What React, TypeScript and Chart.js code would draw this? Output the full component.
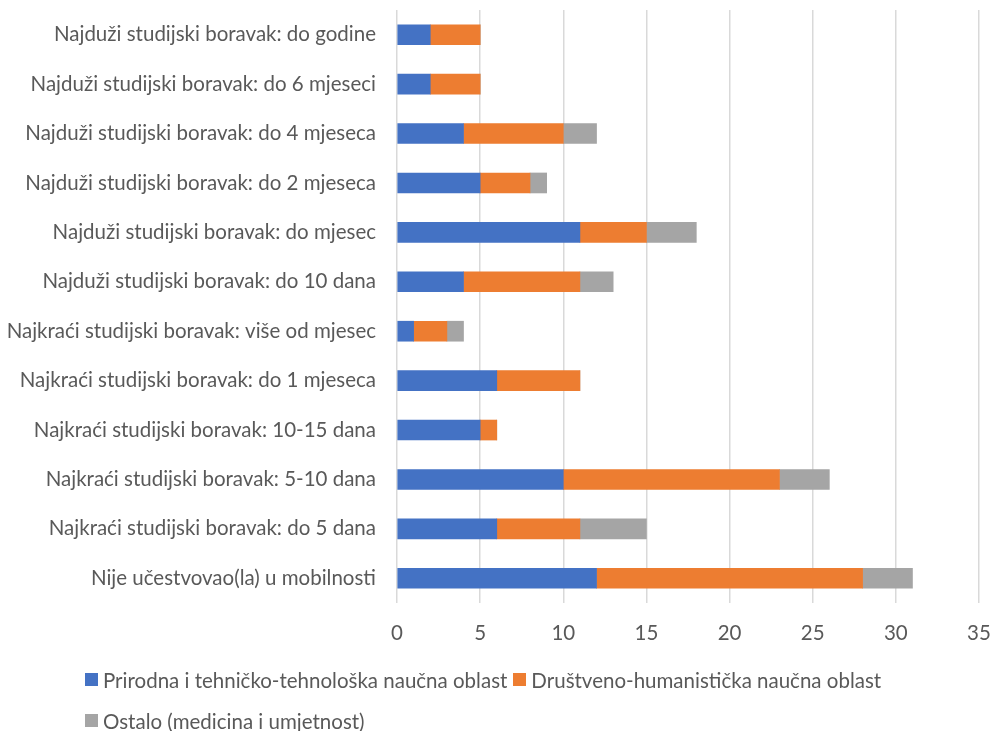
import React, { useEffect, useRef } from "react";
import { Chart, registerables } from "chart.js";

Chart.register(...registerables);

const categories = [
  "Najduži studijski boravak: do godine",
  "Najduži studijski boravak: do 6 mjeseci",
  "Najduži studijski boravak: do 4 mjeseca",
  "Najduži studijski boravak: do 2 mjeseca",
  "Najduži studijski boravak: do mjesec",
  "Najduži studijski boravak: do 10 dana",
  "Najkraći studijski boravak: više od mjesec",
  "Najkraći studijski boravak: do 1 mjeseca",
  "Najkraći studijski boravak: 10-15 dana",
  "Najkraći studijski boravak: 5-10 dana",
  "Najkraći studijski boravak: do 5 dana",
  "Nije učestvovao(la) u mobilnosti",
];

const prirodna = [2, 2, 4, 5, 11, 4, 1, 6, 5, 10, 6, 12];
const drustveno = [3, 3, 6, 3, 4, 7, 2, 5, 1, 13, 5, 16];
const ostalo = [0, 0, 2, 1, 3, 2, 1, 0, 0, 3, 4, 3];

const seriesNames = [
  "Prirodna i tehničko-tehnološka naučna oblast",
  "Društveno-humanistička naučna oblast",
  "Ostalo (medicina i umjetnost)",
];
const colors = ["#4472C4", "#ED7D31", "#A5A5A5"];

const FONT = "Lato, 'Liberation Sans', sans-serif";
const TEXT = "#595959";
const FS = 20.5;

export default function App() {
  const ref = useRef<HTMLCanvasElement | null>(null);
  useEffect(() => {
    if (!ref.current) return;
    const chart = new Chart(ref.current, {
      type: "bar",
      data: {
        labels: categories,
        datasets: [prirodna, drustveno, ostalo].map((d, i) => ({
          label: seriesNames[i],
          data: d,
          backgroundColor: colors[i],
          borderWidth: 0,
          barThickness: 20,
        })),
      },
      options: {
        indexAxis: "y",
        animation: false,
        responsive: true,
        maintainAspectRatio: false,
        layout: { padding: { top: 2, right: 0, bottom: 12, left: 0 } },
        plugins: { legend: { display: false }, tooltip: { enabled: false } },
        scales: {
          x: {
            stacked: true,
            min: 0,
            max: 35,
            ticks: { stepSize: 5, color: TEXT, font: { family: FONT, size: FS }, padding: 18 },
            grid: { color: "#D9D9D9", lineWidth: 1.5, drawTicks: false },
            border: { display: false },
            afterFit: (s: any) => { s.height = 43; s.paddingRight = 14; s.paddingLeft = 0; },
          },
          y: {
            stacked: true,
            ticks: { color: TEXT, font: { family: FONT, size: FS }, padding: 21 },
            grid: { display: false, drawTicks: false },
            border: { display: false },
            afterFit: (s: any) => { s.width = 389; s.paddingTop = 0; s.paddingBottom = 0; },
          },
        },
      },
    });
    return () => chart.destroy();
  }, []);
  return (
    <div style={{ position: "fixed", left: 8, top: 8, width: 985, height: 740, fontFamily: FONT }}>
      <div style={{ position: "relative", width: 985, height: 650 }}>
        <canvas ref={ref} />
      </div>
      <div style={{ display: "flex", flexWrap: "wrap", width: 860, marginLeft: 77, marginTop: 1, color: TEXT, fontSize: FS }}>
        {seriesNames.map((n, i) => (
          <div key={n} style={{ display: "flex", alignItems: "center", height: 41, marginRight: 6 }}>
            <span style={{ display: "inline-block", width: 13, height: 13, background: colors[i], marginRight: 5 }} />
            <span>{n}</span>
          </div>
        ))}
      </div>
    </div>
  );
}
